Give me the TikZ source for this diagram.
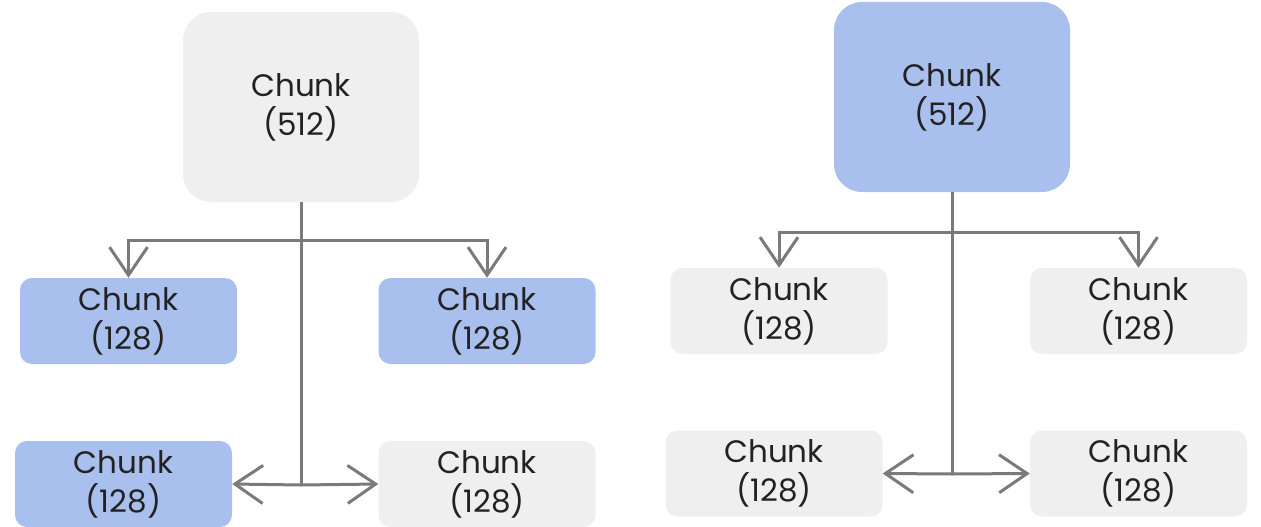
\documentclass[tikz,border=0pt]{standalone}
\usepackage{fontspec}
\setmainfont{Poppins}
\usetikzlibrary{arrows.meta}
\definecolor{blu}{HTML}{A9BFEE}
\definecolor{gry}{HTML}{EFEFEF}
\definecolor{lin}{HTML}{7A7A7A}
\definecolor{txt}{HTML}{222222}
\begin{document}
\begin{tikzpicture}[x=1pt,y=-1pt,
  box/.style={rounded corners=12pt,inner sep=0pt,align=center,text=txt,
    font=\fontsize{31}{39}\selectfont,minimum width=217pt,minimum height=86pt},
  big/.style={box,rounded corners=28pt,minimum width=236pt,minimum height=190pt},
  conn/.style={draw=lin,line width=3pt},
  arr/.style={conn,-{Straight Barb[length=28pt,width=38pt,line width=3pt]}}]
\useasboundingbox (0,0) rectangle (1261,527);
\clip (0,0) rectangle (1261,527);
% left diagram
\node[big,fill=gry] (ltop) at (301,107) {Chunk\\(512)};
\node[box,fill=blu] (lml) at (128.5,321) {Chunk\\(128)};
\node[box,fill=blu] (lmr) at (487,321) {Chunk\\(128)};
\node[box,fill=blu] (lbl) at (123.5,484) {Chunk\\(128)};
\node[box,fill=gry] (lbr) at (487,484) {Chunk\\(128)};
\coordinate (lh) at (301,240);
\coordinate (lb) at (301,485);
\draw[conn] (ltop.south) -- (lb);
\draw[arr] (lh) -| (lml.north);
\draw[arr] (lh) -| (lmr.north);
\draw[arr] (lb) -- (lbl.east);
\draw[arr] (lb) -- (lbr.west);
% right diagram
\node[big,fill=blu] (rtop) at (952,97) {Chunk\\(512)};
\node[box,fill=gry] (rml) at (779,311) {Chunk\\(128)};
\node[box,fill=gry] (rmr) at (1138.5,311) {Chunk\\(128)};
\node[box,fill=gry] (rbl) at (774,473.5) {Chunk\\(128)};
\node[box,fill=gry] (rbr) at (1138.5,473.5) {Chunk\\(128)};
\coordinate (rh) at (952,232);
\coordinate (rb) at (952,474);
\draw[conn] (rtop.south) -- (rb);
\draw[arr] (rh) -| (rml.north);
\draw[arr] (rh) -| (rmr.north);
\draw[arr] (rb) -- (rbl.east);
\draw[arr] (rb) -- (rbr.west);
\end{tikzpicture}
\end{document}
